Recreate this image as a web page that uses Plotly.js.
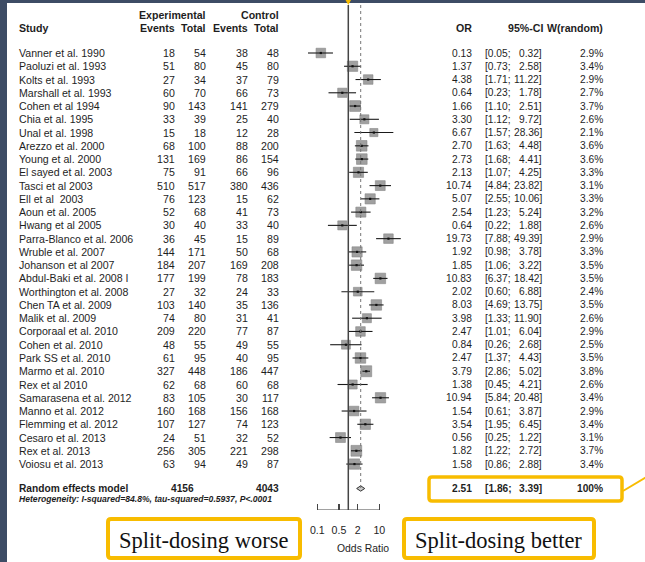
<!DOCTYPE html>
<html>
<head>
<meta charset="utf-8">
<script src="https://cdn.plot.ly/plotly-3.0.1.min.js"></script>
<style>html,body{margin:0;padding:0;background:#fff;}#chart{width:645px;height:562px;}</style>
</head>
<body>
<div id="chart"></div>
<script>
// ---------- DATA ----------
const studies = ["Vanner et al. 1990","Paoluzi et al. 1993","Kolts et al. 1993","Marshall et al. 1993","Cohen et al 1994","Chia et al. 1995","Unal et al. 1998","Arezzo et al. 2000","Young et al. 2000","El sayed et al. 2003","Tasci et al 2003","Ell et al  2003","Aoun et al. 2005","Hwang et al 2005","Parra-Blanco et al. 2006","Wruble et al. 2007","Johanson et al 2007","Abdul-Baki et al. 2008 I","Worthington et al. 2008","Chen TA et al. 2009","Malik et al. 2009","Corporaal et al. 2010","Cohen et al. 2010","Park SS et al. 2010","Marmo et al. 2010","Rex et al 2010","Samarasena et al. 2012","Manno et al. 2012","Flemming et al. 2012","Cesaro et al. 2013","Rex et al. 2013","Voiosu et al. 2013"];
const expEvents = [18,51,27,60,90,33,15,68,131,75,510,76,52,30,36,144,184,177,27,103,74,209,48,61,327,62,83,160,107,24,256,63];
const expTotal = [54,80,34,70,143,39,18,100,169,91,517,123,68,40,45,171,207,199,32,140,80,220,55,95,448,68,105,168,127,51,305,94];
const ctrlEvents = [38,45,37,66,141,25,12,88,86,66,380,15,41,33,15,50,169,78,24,35,31,77,49,40,186,60,30,156,74,32,221,49];
const ctrlTotal = [48,80,79,73,279,40,28,200,154,96,436,62,73,40,89,68,208,183,33,136,41,87,55,95,447,68,117,168,123,52,298,87];
const oddsRatio = [0.13,1.37,4.38,0.64,1.66,3.30,6.67,2.70,2.73,2.13,10.74,5.07,2.54,0.64,19.73,1.92,1.85,10.83,2.02,8.03,3.98,2.47,0.84,2.47,3.79,1.38,10.94,1.54,3.54,0.56,1.82,1.58];
const ciLow = [0.05,0.73,1.71,0.23,1.10,1.12,1.57,1.63,1.68,1.07,4.84,2.55,1.23,0.22,7.88,0.98,1.06,6.37,0.60,4.69,1.33,1.01,0.26,1.37,2.86,0.45,5.84,0.61,1.95,0.25,1.22,0.86];
const ciHigh = [0.32,2.58,11.22,1.78,2.51,9.72,28.36,4.48,4.41,4.25,23.82,10.06,5.24,1.88,49.39,3.78,3.22,18.42,6.88,13.75,11.90,6.04,2.68,4.43,5.02,4.21,20.48,3.87,6.45,1.22,2.72,2.88];
const weights = [2.9,3.4,2.9,2.7,3.7,2.6,2.1,3.6,3.6,3.3,3.1,3.3,3.2,2.6,2.9,3.3,3.5,3.5,2.4,3.5,2.6,2.9,2.5,3.5,3.8,2.6,3.4,2.9,3.4,3.1,3.7,3.4];
const summaryLabel = "Random effects model";
const summaryExpTotal = 4156;
const summaryCtrlTotal = 4043;
const summaryOR = 2.51;
const summaryLow = 1.86;
const summaryHigh = 3.39;
const summaryWeight = "100%";
const heterogeneity = "Heterogeneity: I-squared=84.8%, tau-squared=0.5937, P&lt;.0001";
const tickValues = [0.1, 0.5, 2, 10];
const tickLabels = ["0.1", "0.5", "2", "10"];
const axisTitle = "Odds Ratio";
const leftNote = "Split-dosing worse";
const rightNote = "Split-dosing better";

// ---------- LAYOUT HELPERS ----------
const W = 645, H = 562;
const X = px => px / W;
const Y = py => 1 - py / H;
const rowTop = 53, rowStep = 13.26;
const rowOf = py => (py - rowTop) / rowStep;
const axisPx = 510;
const orPx0 = 348.3, pxPerDecade = 31;
const xRange = [(0 - orPx0) / pxPerDecade, (W - orPx0) / pxPerDecade];
const yRange = [rowOf(axisPx), rowOf(0)];
const n = studies.length;
const rows = studies.map((_, i) => i);
const sumRow = rowOf(488.5), hetRow = rowOf(498.8), hdr1 = rowOf(14.5), hdr2 = rowOf(28);

const SANS = "Liberation Sans, Arial, sans-serif";
const TXT = "#1e1e1e";
const ORANGE = "#F8BC00";
const FS = 10.6;
const FSN = 10.2;

const ann = [];
function t(text, px, row, anchor, opts) {
  opts = opts || {};
  ann.push({
    text: text, x: X(px), xref: "paper", y: row, yref: opts.yref || "y",
    xanchor: anchor, yanchor: "middle", showarrow: false,
    font: {family: opts.family || SANS, size: opts.size || FS, color: opts.color || TXT}
  });
}

// headers
t("<b>Study</b>", 16.5, hdr2, "left");
t("<b>Experimental</b>", 208, hdr1, "right");
t("<b>Control</b>", 281, hdr1, "right");
t("<b>Events</b>", 176.7, hdr2, "right");
t("<b>Total</b>", 208, hdr2, "right");
t("<b>Events</b>", 250, hdr2, "right");
t("<b>Total</b>", 281, hdr2, "right");
t("<b>OR</b>", 474.3, hdr2, "right");
t("<b>95%-CI</b>", 545, hdr2, "right");
t("<b>W(random)</b>", 605, hdr2, "right");

// study rows
for (let i = 0; i < n; i++) {
  t(studies[i], 16.5, i, "left");
  t(String(expEvents[i]), 176.7, i, "right");
  t(String(expTotal[i]), 208, i, "right");
  t(String(ctrlEvents[i]), 250, i, "right");
  t(String(ctrlTotal[i]), 281, i, "right");
  t(oddsRatio[i].toFixed(2), 474.3, i, "right", {size: FSN});
  t("[" + ciLow[i].toFixed(2) + ";", 483.5, i, "left", {size: FSN});
  t(ciHigh[i].toFixed(2) + "]", 543.5, i, "right", {size: FSN});
  t(weights[i].toFixed(1) + "%", 605, i, "right", {size: FSN});
}

// summary row
t("<b>" + summaryLabel + "</b>", 16.5, sumRow, "left", {size: FSN});
t("<b>" + summaryExpTotal + "</b>", 196, sumRow, "right", {size: FSN});
t("<b>" + summaryCtrlTotal + "</b>", 281, sumRow, "right", {size: FSN});
t("<b>" + summaryOR.toFixed(2) + "</b>", 474.3, sumRow, "right", {size: FSN});
t("<b>[" + summaryLow.toFixed(2) + ";</b>", 483.5, sumRow, "left", {size: FSN});
t("<b>" + summaryHigh.toFixed(2) + "]</b>", 543.5, sumRow, "right", {size: FSN});
t("<b>" + summaryWeight + "</b>", 605, sumRow, "right", {size: FSN});
t("<b><i>" + heterogeneity + "</i></b>", 16.5, hetRow, "left", {size: 8.6});

// axis title
t(axisTitle, 363, Y(548), "center", {yref: "paper", size: 10.4});

// notes in boxes
t(leftNote, 203, Y(540), "center", {yref: "paper", family: "Liberation Serif, Times New Roman, serif", size: 22.5, color: "#111"});
t(rightNote, 498, Y(540), "center", {yref: "paper", family: "Liberation Serif, Times New Roman, serif", size: 22.5, color: "#111"});

// ---------- SHAPES ----------
function rrect(x0, y0, x1, y1, r) {
  return "M " + X(x0 + r) + "," + Y(y0) +
    " L " + X(x1 - r) + "," + Y(y0) +
    " Q " + X(x1) + "," + Y(y0) + " " + X(x1) + "," + Y(y0 + r) +
    " L " + X(x1) + "," + Y(y1 - r) +
    " Q " + X(x1) + "," + Y(y1) + " " + X(x1 - r) + "," + Y(y1) +
    " L " + X(x0 + r) + "," + Y(y1) +
    " Q " + X(x0) + "," + Y(y1) + " " + X(x0) + "," + Y(y1 - r) +
    " L " + X(x0) + "," + Y(y0 + r) +
    " Q " + X(x0) + "," + Y(y0) + " " + X(x0 + r) + "," + Y(y0) + " Z";
}
const shapes = [
  // slide background strips
  {type: "rect", xref: "paper", yref: "paper", x0: 0, x1: X(7), y0: 0, y1: 1, fillcolor: "#3d4c65", line: {width: 0}, layer: "below"},
  {type: "rect", xref: "paper", yref: "paper", x0: 0, x1: 1, y0: Y(3), y1: 1, fillcolor: "#3d4c65", line: {width: 0}, layer: "below"},
  {type: "path", xref: "paper", yref: "paper", path: "M " + X(345.5) + "," + Y(0) + " L " + X(351) + "," + Y(0) + " L " + X(348.3) + "," + Y(5) + " Z", fillcolor: ORANGE, line: {width: 0}},
  // line of no effect
  {type: "line", xref: "x", yref: "y", x0: 1, x1: 1, y0: rowOf(5), y1: rowOf(axisPx), line: {color: "#444", width: 1.5}},
  // summary estimate dotted line
  {type: "line", xref: "x", yref: "y", x0: summaryOR, x1: summaryOR, y0: rowOf(5), y1: sumRow, line: {color: "#777", width: 1, dash: "dot"}},
  // x axis line
  {type: "line", xref: "x", yref: "y", x0: tickValues[0], x1: tickValues[tickValues.length - 1], y0: rowOf(axisPx), y1: rowOf(axisPx), line: {color: "#444", width: 1.2}},
  // highlight boxes
  {type: "path", xref: "paper", yref: "paper", path: rrect(429, 477, 622, 501, 3), line: {color: ORANGE, width: 3.5}},
  {type: "line", xref: "paper", yref: "paper", x0: X(623), y0: Y(491), x1: X(648), y1: Y(476), line: {color: ORANGE, width: 2}},
  {type: "path", xref: "paper", yref: "paper", path: rrect(108, 519, 300, 558, 3), fillcolor: "#fff", line: {color: ORANGE, width: 4}},
  {type: "path", xref: "paper", yref: "paper", path: rrect(404, 519, 594, 558, 3), fillcolor: "#fff", line: {color: ORANGE, width: 4}}
];

// ---------- TRACES ----------
const squares = {
  type: "scatter", mode: "markers", x: oddsRatio, y: rows, cliponaxis: false, hoverinfo: "skip",
  marker: {symbol: "square", size: weights.map(w => 5.6 * Math.sqrt(w)), color: "#787878", line: {color: "#555", width: 0.6}}
};
const ciX = [], ciY = [];
for (let i = 0; i < n; i++) { ciX.push(ciLow[i], ciHigh[i], null); ciY.push(i, i, null); }
const ciLines = {type: "scatter", mode: "lines", x: ciX, y: ciY, cliponaxis: false, hoverinfo: "skip", line: {color: "#1a1a1a", width: 1.1}};
const dots = {type: "scatter", mode: "markers", x: oddsRatio, y: rows, cliponaxis: false, hoverinfo: "skip", marker: {symbol: "square", size: 2.2, color: "#111"}};
const diamond = {
  type: "scatter", mode: "lines", fill: "toself", hoverinfo: "skip", cliponaxis: false,
  x: [summaryLow, summaryOR, summaryHigh, summaryOR, summaryLow],
  y: [sumRow, sumRow - 0.2, sumRow, sumRow + 0.2, sumRow],
  fillcolor: "#c8c8c8", line: {color: "#333", width: 1}
};

const layout = {
  width: W, height: H, margin: {l: 0, r: 0, t: 0, b: 0, pad: 0},
  paper_bgcolor: "#ffffff", plot_bgcolor: "rgba(0,0,0,0)", showlegend: false,
  xaxis: {
    type: "log", range: xRange, domain: [0, 1], automargin: false,
    tickmode: "array", tickvals: tickValues, ticktext: tickLabels,
    ticks: "inside", ticklen: 6, tickwidth: 1.1, tickcolor: "#444",
    showgrid: false, zeroline: false, showline: false, fixedrange: true,
    tickfont: {family: SANS, size: FS, color: TXT}, ticklabelstandoff: 12
  },
  yaxis: {
    range: yRange, domain: [Y(axisPx), 1], automargin: false,
    visible: false, showgrid: false, zeroline: false, fixedrange: true
  },
  shapes: shapes, annotations: ann
};

Plotly.newPlot("chart", [squares, ciLines, dots, diamond], layout, {staticPlot: true, displayModeBar: false});
</script>
</body>
</html>
